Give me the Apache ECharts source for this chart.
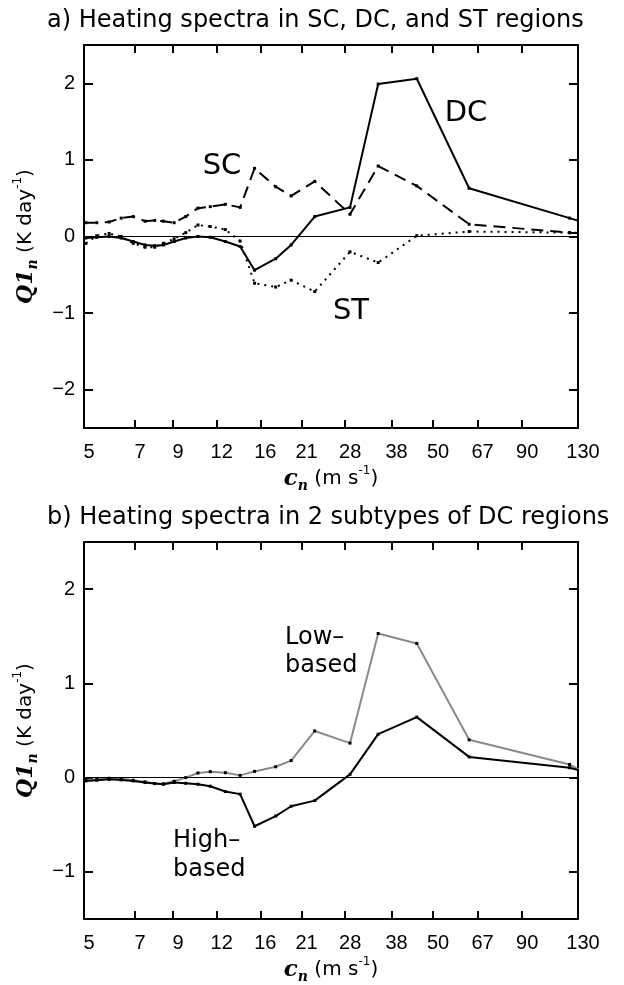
<!DOCTYPE html>
<html lang="en">
<head>
  <meta charset="UTF-8">
  <title>Heating spectra</title>
  <style>
    body { margin: 0; background: #fff; }
    #chart { width: 624px; height: 985px; }
  </style>
</head>
<body>
  <div id="chart"></div>

  <script src="https://cdn.jsdelivr.net/npm/echarts@6/dist/echarts.min.js"></script>
  <script>
    // phase speeds of the modes (m/s); last one lies past the axis and gets clipped
    const speeds = [5.06, 5.44, 5.9, 6.39, 6.92, 7.48, 7.97, 8.44, 9.06, 9.78, 10.6, 11.5,
                    12.7, 14.0, 15.4, 17.7, 19.6, 22.9, 28.9, 34.8, 44.9, 63.4, 123, 150];

    // panel a: SC, DC, ST regions
    const dcA = [-0.02, -0.01, 0.0, -0.02, -0.065, -0.11, -0.12, -0.11, -0.065, -0.02, 0.0, -0.01,
                 -0.065, -0.13, -0.44, -0.29, -0.11, 0.26, 0.38, 1.99, 2.06, 0.63, 0.24, 0.12];
    const scA = [0.18, 0.18, 0.19, 0.24, 0.26, 0.20, 0.21, 0.20, 0.18, 0.26, 0.37, 0.39,
                 0.42, 0.38, 0.89, 0.65, 0.53, 0.72, 0.29, 0.92, 0.66, 0.16, 0.05, 0.03];
    const stA = [-0.09, 0.01, 0.04, 0.0, -0.09, -0.14, -0.14, -0.09, -0.03, 0.05, 0.15, 0.13,
                 0.09, -0.06, -0.61, -0.66, -0.57, -0.72, -0.20, -0.34, 0.01, 0.065, 0.05, 0.05];

    // panel b: two DC subtypes
    const lowB = [-0.024, -0.018, -0.007, -0.01, -0.028, -0.045, -0.063, -0.066, -0.039, 0.0, 0.049, 0.063,
                  0.052, 0.024, 0.066, 0.115, 0.181, 0.495, 0.366, 1.529, 1.424, 0.401, 0.139, -0.037];
    const highB = [-0.035, -0.028, -0.018, -0.024, -0.035, -0.052, -0.063, -0.07, -0.052, -0.06, -0.07, -0.091,
                   -0.147, -0.175, -0.516, -0.408, -0.304, -0.244, 0.035, 0.461, 0.642, 0.22, 0.105, 0.02];

    const xLabelSpeeds = [5, 7, 9, 12, 16, 21, 28, 38, 50, 67, 90, 130];
    const xTickSpeeds = [7, 9, 12, 16, 21, 28, 38, 50, 67, 90];
    const yTicksA = [-2, -1, 0, 1, 2];
    const yTicksB = [-1, 0, 1, 2];

    const FONT = 'Liberation Sans';
    const lg = v => Math.log10(v);
    const pairs = vals => speeds.map((c, i) => [lg(c), vals[i]]);

    function xAxisFor(gridIndex, top) {
      return {
        type: 'value',
        gridIndex: gridIndex,
        position: top ? 'top' : 'bottom',
        min: lg(5),
        max: lg(130),
        axisLine: { show: true, onZero: false, lineStyle: { color: '#000', width: 2 } },
        axisTick: { show: true, inside: true, length: 8, customValues: xTickSpeeds.map(lg),
                    lineStyle: { color: '#000', width: 2 } },
        axisLabel: { show: !top, customValues: xLabelSpeeds.map(lg),
                     formatter: v => String(Math.round(Math.pow(10, v))),
                     color: '#000', fontFamily: FONT, fontSize: 20, margin: 14, padding: [0, 0, 0, 10] },
        splitLine: { show: false },
        name: top ? '' : '{c|c}{n|n} (m s{p|-1})',
        nameLocation: 'middle',
        nameGap: 37,
        nameTextStyle: {
          color: '#000', fontFamily: 'DejaVu Sans', fontSize: 20,
          rich: {
            c: { fontFamily: 'DejaVu Serif', fontStyle: 'italic', fontWeight: 'bold', fontSize: 23, lineHeight: 28, verticalAlign: 'middle' },
            n: { fontFamily: 'DejaVu Serif', fontStyle: 'italic', fontWeight: 'bold', fontSize: 14, lineHeight: 28, verticalAlign: 'bottom' },
            p: { fontFamily: 'DejaVu Sans', fontSize: 12, lineHeight: 28, verticalAlign: 'top' }
          }
        }
      };
    }

    function yAxisFor(gridIndex, right, lo, hi, ticks) {
      return {
        type: 'value',
        gridIndex: gridIndex,
        position: right ? 'right' : 'left',
        min: lo,
        max: hi,
        axisLine: { show: true, onZero: false, lineStyle: { color: '#000', width: 2 } },
        axisTick: { show: true, inside: true, length: 9, customValues: ticks,
                    lineStyle: { color: '#000', width: 2 } },
        axisLabel: { show: !right, customValues: ticks,
                     formatter: v => (v < 0 ? '\u2212' + (-v) : String(v)),
                     color: '#000', fontFamily: FONT, fontSize: 20, margin: 9 },
        splitLine: { show: false },
        name: right ? '' : '{q|Q1}{n|n} (K day{p|-1})',
        nameLocation: 'middle',
        nameRotate: 90,
        nameGap: 44,
        nameTextStyle: {
          color: '#000', fontFamily: 'DejaVu Sans', fontSize: 20,
          rich: {
            q: { fontFamily: 'DejaVu Serif', fontStyle: 'italic', fontWeight: 'bold', fontSize: 22, lineHeight: 28, verticalAlign: 'middle' },
            n: { fontFamily: 'DejaVu Serif', fontStyle: 'italic', fontWeight: 'bold', fontSize: 14, lineHeight: 28, verticalAlign: 'bottom' },
            p: { fontFamily: 'DejaVu Sans', fontSize: 12, lineHeight: 28, verticalAlign: 'top' }
          }
        }
      };
    }

    const zeroLine = {
      silent: true,
      symbol: ['none', 'none'],
      label: { show: false },
      lineStyle: { color: '#000', width: 1, type: 'solid' },
      data: [{ yAxis: 0 }]
    };

    function lineSeries(axisIdx, vals, color, dash, width, withZero) {
      const s = {
        type: 'line',
        xAxisIndex: axisIdx,
        yAxisIndex: axisIdx,
        data: pairs(vals),
        symbol: 'rect',
        symbolSize: 3,
        showSymbol: true,
        itemStyle: { color: '#000' },
        lineStyle: { color: color, width: width, type: dash },
        clip: true,
        z: 3
      };
      if (withZero) s.markLine = zeroLine;
      return s;
    }

    const titleStyle = { color: '#000', fontFamily: 'DejaVu Sans', fontSize: 24, fontWeight: 'normal' };

    const chart = echarts.init(document.getElementById('chart'));
    chart.setOption({
      animation: false,
      backgroundColor: '#fff',
      title: [
        { text: 'a) Heating spectra in SC, DC, and ST regions', left: 42, top: 4, textStyle: titleStyle },
        { text: 'b) Heating spectra in 2 subtypes of DC regions', left: 42, top: 501, textStyle: titleStyle }
      ],
      grid: [
        { left: 84, top: 45, width: 494, height: 383 },
        { left: 84, top: 542, width: 494, height: 382 }
      ],
      xAxis: [xAxisFor(0, false), xAxisFor(1, false), xAxisFor(0, true), xAxisFor(1, true)],
      yAxis: [yAxisFor(0, false, -2.5, 2.5, yTicksA), yAxisFor(1, false, -1.5, 2.5, yTicksB),
              yAxisFor(0, true, -2.5, 2.5, yTicksA), yAxisFor(1, true, -1.5, 2.5, yTicksB)],
      series: [
        lineSeries(0, stA, '#000', [2, 5], 2, true),
        lineSeries(0, scA, '#000', [12, 7], 2, false),
        lineSeries(0, dcA, '#000', 'solid', 2, false),
        lineSeries(1, lowB, '#8a8a8a', 'solid', 2, true),
        lineSeries(1, highB, '#000', 'solid', 2, false)
      ],
      graphic: [
        { type: 'text', x: 466, y: 113, style: { text: 'DC', font: '29px "DejaVu Sans"', fill: '#000', align: 'center', verticalAlign: 'middle' } },
        { type: 'text', x: 222, y: 166, style: { text: 'SC', font: '29px "DejaVu Sans"', fill: '#000', align: 'center', verticalAlign: 'middle' } },
        { type: 'text', x: 351, y: 311, style: { text: 'ST', font: '29px "DejaVu Sans"', fill: '#000', align: 'center', verticalAlign: 'middle' } },
        { type: 'text', x: 285, y: 624, style: { text: 'Low\u2013\nbased', font: '24px "DejaVu Sans"', lineHeight: 28, fill: '#000', align: 'left', verticalAlign: 'top' } },
        { type: 'text', x: 173, y: 826, style: { text: 'High\u2013\nbased', font: '24px "DejaVu Sans"', lineHeight: 29, fill: '#000', align: 'left', verticalAlign: 'top' } }
      ]
    });
  </script>
</body>
</html>
